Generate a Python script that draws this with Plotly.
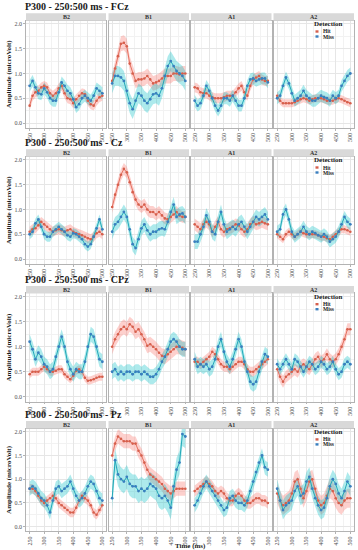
import plotly.graph_objects as go

# ---------------- data ----------------
times = [250, 260, 270, 280, 290, 300, 310, 320, 330, 340, 350, 360, 370,
         380, 390, 400, 410, 420, 430, 440, 450, 460, 470, 480, 490, 500]
conditions = ["B2", "B1", "A1", "A2"]
electrodes = ["FCz", "Cz", "CPz", "Pz"]
series_names = ["Hit", "Miss"]
x_ticks = [250, 300, 350, 400, 450, 500]
y_ticks = [0.0, 0.5, 1.0, 1.5, 2.0]

# FCz
fcz_b2_hit = [0.35, 0.55, 0.62, 0.65, 0.72, 0.75, 0.72, 0.6, 0.55, 0.6, 0.7, 0.75, 0.6, 0.5, 0.48, 0.4, 0.48, 0.55, 0.6, 0.58, 0.45, 0.38, 0.35, 0.45, 0.52, 0.55]
fcz_b2_miss = [0.75, 0.85, 0.72, 0.6, 0.58, 0.7, 0.62, 0.5, 0.45, 0.45, 0.62, 0.82, 0.75, 0.65, 0.6, 0.48, 0.32, 0.38, 0.5, 0.55, 0.5, 0.45, 0.55, 0.7, 0.65, 0.6]
fcz_b1_hit = [0.85, 1.1, 1.35, 1.6, 1.62, 1.55, 1.2, 1.0, 0.85, 0.88, 0.88, 0.9, 0.95, 0.88, 0.8, 0.82, 0.85, 0.9, 0.95, 0.95, 0.95, 1.0, 1.0, 0.98, 1.0, 1.0]
fcz_b1_miss = [0.8, 0.95, 0.95, 0.92, 0.85, 0.65, 0.4, 0.28, 0.45, 0.6, 0.55, 0.45, 0.4, 0.48, 0.58, 0.6, 0.55, 0.7, 0.95, 1.15, 1.25, 1.15, 1.05, 1.0, 0.95, 0.85]
fcz_a1_hit = [0.72, 0.7, 0.62, 0.6, 0.6, 0.55, 0.52, 0.5, 0.5, 0.5, 0.52, 0.55, 0.55, 0.55, 0.62, 0.7, 0.75, 0.62, 0.55, 0.75, 0.88, 0.92, 0.95, 0.88, 0.85, 0.85]
fcz_a1_miss = [0.45, 0.35, 0.4, 0.55, 0.75, 0.65, 0.5, 0.35, 0.25, 0.35, 0.5, 0.5, 0.45, 0.55, 0.45, 0.35, 0.35, 0.5, 0.75, 0.88, 0.9, 0.85, 0.88, 0.9, 0.9, 0.82]
fcz_a2_hit = [0.55, 0.45, 0.4, 0.4, 0.4, 0.4, 0.42, 0.45, 0.48, 0.5, 0.48, 0.45, 0.48, 0.5, 0.5, 0.5, 0.48, 0.45, 0.45, 0.45, 0.48, 0.5, 0.48, 0.45, 0.42, 0.4]
fcz_a2_miss = [0.5, 0.55, 0.75, 0.92, 0.8, 0.6, 0.45, 0.5, 0.55, 0.65, 0.55, 0.5, 0.45, 0.45, 0.5, 0.55, 0.52, 0.5, 0.45, 0.55, 0.5, 0.55, 0.75, 0.85, 0.95, 1.0]

# Cz
cz_b2_hit = [0.55, 0.6, 0.62, 0.68, 0.75, 0.7, 0.65, 0.6, 0.55, 0.58, 0.6, 0.58, 0.55, 0.58, 0.6, 0.55, 0.52, 0.5, 0.48, 0.45, 0.42, 0.4, 0.45, 0.52, 0.55, 0.5]
cz_b2_miss = [0.5, 0.55, 0.72, 0.8, 0.65, 0.5, 0.45, 0.45, 0.55, 0.6, 0.65, 0.6, 0.55, 0.48, 0.45, 0.52, 0.5, 0.45, 0.4, 0.3, 0.25, 0.3, 0.45, 0.62, 0.8, 0.6]
cz_b1_hit = [1.05, 1.3, 1.5, 1.7, 1.82, 1.75, 1.55, 1.35, 1.2, 1.1, 1.05, 1.1, 1.0, 0.95, 0.95, 0.9, 0.95, 0.88, 0.82, 0.8, 0.85, 0.9, 0.95, 0.88, 0.85, 0.85]
cz_b1_miss = [0.55, 0.7, 0.75, 0.85, 0.95, 0.85, 0.6, 0.3, 0.22, 0.4, 0.62, 0.7, 0.58, 0.5, 0.55, 0.55, 0.6, 0.62, 0.6, 0.75, 0.95, 1.1, 0.85, 0.9, 0.92, 0.85]
cz_a1_hit = [0.7, 0.65, 0.6, 0.7, 0.75, 0.7, 0.55, 0.65, 0.75, 0.6, 0.55, 0.6, 0.62, 0.65, 0.7, 0.68, 0.6, 0.55, 0.6, 0.7, 0.75, 0.7, 0.72, 0.75, 0.72, 0.7]
cz_a1_miss = [0.35, 0.35, 0.5, 0.65, 0.88, 0.75, 0.55, 0.5, 0.75, 0.95, 0.7, 0.55, 0.6, 0.65, 0.6, 0.7, 0.75, 0.65, 0.55, 0.65, 0.75, 0.85, 0.8, 0.85, 0.9, 0.8]
cz_a2_hit = [0.5, 0.45, 0.4, 0.5, 0.55, 0.5, 0.45, 0.5, 0.55, 0.52, 0.5, 0.5, 0.5, 0.5, 0.48, 0.45, 0.45, 0.42, 0.4, 0.45, 0.5, 0.55, 0.6, 0.6, 0.58, 0.55]
cz_a2_miss = [0.55, 0.6, 0.9, 1.0, 0.8, 0.55, 0.45, 0.5, 0.55, 0.65, 0.55, 0.5, 0.55, 0.52, 0.48, 0.45, 0.5, 0.45, 0.35, 0.4, 0.45, 0.55, 0.7, 0.85, 0.75, 0.7]

# CPz
cpz_b2_hit = [0.45, 0.5, 0.5, 0.5, 0.55, 0.6, 0.55, 0.5, 0.5, 0.52, 0.55, 0.55, 0.45, 0.4, 0.35, 0.42, 0.52, 0.55, 0.5, 0.38, 0.32, 0.33, 0.35, 0.38, 0.4, 0.4]
cpz_b2_miss = [1.1, 0.95, 0.75, 0.88, 0.8, 0.65, 0.6, 0.5, 0.55, 0.8, 1.0, 1.2, 1.0, 0.7, 0.55, 0.45, 0.55, 0.5, 0.5, 0.7, 1.0, 1.25, 1.2, 1.0, 0.75, 0.7]
cpz_b1_hit = [1.0, 1.15, 1.25, 1.35, 1.4, 1.35, 1.45, 1.4, 1.3, 1.35, 1.25, 1.15, 1.02, 1.05, 1.0, 0.95, 0.88, 0.82, 0.8, 0.85, 0.9, 0.95, 1.0, 1.0, 0.98, 0.95]
cpz_b1_miss = [0.5, 0.55, 0.45, 0.5, 0.45, 0.5, 0.5, 0.45, 0.5, 0.5, 0.45, 0.5, 0.45, 0.4, 0.4, 0.45, 0.55, 0.7, 0.8, 0.95, 1.1, 1.15, 1.1, 1.0, 0.95, 0.95]
cpz_a1_hit = [0.7, 0.7, 0.65, 0.7, 0.75, 0.8, 0.9, 0.85, 0.75, 0.65, 0.6, 0.6, 0.55, 0.6, 0.65, 0.7, 0.7, 0.65, 0.55, 0.5, 0.5, 0.55, 0.6, 0.65, 0.7, 0.75]
cpz_a1_miss = [0.75, 0.6, 0.65, 0.6, 0.65, 0.55, 0.6, 0.75, 1.0, 1.15, 0.9, 0.7, 0.6, 0.75, 0.95, 1.15, 1.0, 0.7, 0.5, 0.3, 0.25, 0.3, 0.5, 0.7, 0.85, 0.8]
cpz_a2_hit = [0.55, 0.4, 0.3, 0.4, 0.45, 0.5, 0.55, 0.5, 0.6, 0.65, 0.6, 0.55, 0.65, 0.75, 0.8, 0.7, 0.75, 0.85, 0.75, 0.7, 0.75, 0.85, 1.0, 1.15, 1.35, 1.35]
cpz_a2_miss = [0.65, 0.55, 0.65, 0.75, 0.65, 0.55, 0.75, 0.7, 0.6, 0.5, 0.6, 0.7, 0.65, 0.55, 0.6, 0.7, 0.65, 0.55, 0.6, 0.7, 0.55, 0.45, 0.5, 0.65, 0.7, 0.65]

# Pz
pz_b2_hit = [0.8, 0.8, 0.75, 0.65, 0.55, 0.5, 0.55, 0.6, 0.65, 0.6, 0.5, 0.45, 0.4, 0.35, 0.3, 0.3, 0.4, 0.55, 0.65, 0.6, 0.55, 0.45, 0.3, 0.25, 0.35, 0.45]
pz_b2_miss = [0.8, 0.85, 0.8, 0.7, 0.6, 0.55, 0.45, 0.3, 0.55, 0.8, 0.85, 0.75, 0.8, 0.85, 0.95, 0.8, 0.65, 0.55, 0.6, 0.7, 0.85, 0.95, 0.9, 0.75, 0.6, 0.55]
pz_b1_hit = [1.5, 1.75, 1.9, 1.85, 1.8, 1.8, 1.8, 1.75, 1.75, 1.6, 1.5, 1.35, 1.2, 1.1, 1.05, 1.0, 0.95, 0.9, 0.8, 0.75, 0.7, 0.75, 0.8, 0.8, 0.8, 0.8]
pz_b1_miss = [0.6, 1.4, 1.1, 1.0, 0.95, 1.05, 0.9, 0.85, 0.85, 0.75, 0.8, 0.75, 0.8, 0.9, 0.85, 0.8, 0.65, 0.6, 0.65, 0.55, 0.4, 0.85, 1.2, 1.35, 1.95, 1.9]
pz_a1_hit = [0.75, 0.8, 0.85, 0.9, 0.95, 0.9, 0.85, 0.75, 0.7, 0.75, 0.7, 0.6, 0.55, 0.55, 0.65, 0.7, 0.65, 0.55, 0.5, 0.5, 0.55, 0.6, 0.6, 0.55, 0.55, 0.5]
pz_a1_miss = [0.45, 0.55, 0.7, 0.85, 0.95, 0.85, 0.75, 0.65, 0.55, 0.45, 0.35, 0.4, 0.6, 0.65, 0.55, 0.5, 0.5, 0.45, 0.55, 0.75, 0.95, 1.15, 1.35, 1.5, 1.25, 1.2]
pz_a2_hit = [0.7, 0.55, 0.45, 0.5, 0.55, 0.7, 0.95, 1.0, 0.8, 0.6, 0.75, 0.95, 1.0, 0.8, 0.55, 0.45, 0.5, 0.65, 0.8, 0.75, 0.6, 0.5, 0.45, 0.55, 0.6, 0.6]
pz_a2_miss = [0.8, 0.55, 0.35, 0.45, 0.5, 0.55, 0.75, 0.85, 0.65, 0.7, 0.95, 1.05, 0.8, 0.6, 0.45, 0.35, 0.4, 0.6, 0.85, 1.0, 0.9, 0.7, 0.6, 0.75, 0.95, 0.85]

# ribbon half-widths per panel (B2, B1, A1, A2)
fcz_hit_band = [0.10, 0.15, 0.10, 0.08]
fcz_miss_band = [0.12, 0.20, 0.12, 0.12]
cz_hit_band = [0.10, 0.12, 0.12, 0.08]
cz_miss_band = [0.10, 0.15, 0.15, 0.12]
cpz_hit_band = [0.08, 0.15, 0.10, 0.12]
cpz_miss_band = [0.15, 0.15, 0.15, 0.12]
pz_hit_band = [0.10, 0.15, 0.12, 0.20]
pz_miss_band = [0.15, 0.25, 0.15, 0.20]

rows_data = [
    ([fcz_b2_hit, fcz_b1_hit, fcz_a1_hit, fcz_a2_hit],
     [fcz_b2_miss, fcz_b1_miss, fcz_a1_miss, fcz_a2_miss], fcz_hit_band, fcz_miss_band),
    ([cz_b2_hit, cz_b1_hit, cz_a1_hit, cz_a2_hit],
     [cz_b2_miss, cz_b1_miss, cz_a1_miss, cz_a2_miss], cz_hit_band, cz_miss_band),
    ([cpz_b2_hit, cpz_b1_hit, cpz_a1_hit, cpz_a2_hit],
     [cpz_b2_miss, cpz_b1_miss, cpz_a1_miss, cpz_a2_miss], cpz_hit_band, cpz_miss_band),
    ([pz_b2_hit, pz_b1_hit, pz_a1_hit, pz_a2_hit],
     [pz_b2_miss, pz_b1_miss, pz_a1_miss, pz_a2_miss], pz_hit_band, pz_miss_band),
]

# ---------------- layout geometry (pixels) ----------------
W, H = 358, 550
col_px = [(26, 106), (108.5, 189), (191, 271.5), (273.5, 354)]
row_px = [(20.7, 127.7), (156.7, 263.7), (293.4, 401.5), (428.6, 531.2)]
y_range = [-0.095, 2.066]
x_range = [237.5, 512.5]

def px_x(p):
    return p / W

def px_y(p):
    return 1 - p / H

SERIF = "Liberation Serif"
hit_line = "#E5705F"
hit_mark = "#D65F4C"
hit_fill = "rgba(248,118,109,0.34)"
miss_line = "#22A8B8"
miss_mark = "#3A7FBF"
miss_fill = "rgba(0,191,196,0.32)"

fig = go.Figure()
layout = dict(
    width=W, height=H, margin=dict(l=0, r=0, t=0, b=0, autoexpand=False),
    paper_bgcolor="white", plot_bgcolor="white", showlegend=False,
)
shapes = []
annotations = []

for r in range(4):
    hits, misses, hband, mband = rows_data[r]
    top, bot = row_px[r]
    for c in range(4):
        n = r * 4 + c + 1
        xa = "xaxis" if n == 1 else f"xaxis{n}"
        ya = "yaxis" if n == 1 else f"yaxis{n}"
        xr = "x" if n == 1 else f"x{n}"
        yr = "y" if n == 1 else f"y{n}"
        l, rr = col_px[c]
        layout[xa] = dict(
            domain=[px_x(l), px_x(rr)], anchor=yr, range=x_range,
            tickvals=x_ticks, ticktext=[str(v) for v in x_ticks], tickangle=-90,
            tickfont=dict(family=SERIF, size=6, color="#4D4D4D"),
            showgrid=True, gridcolor="#E6E6E6", gridwidth=0.6,
            minor=dict(dtick=25, tick0=250, showgrid=True, gridcolor="#F2F2F2", gridwidth=0.4),
            showline=True, mirror=True, linecolor="#B3B3B3", linewidth=0.8,
            ticks="outside", ticklen=2, tickcolor="#B3B3B3", zeroline=False,
            automargin=False, fixedrange=True,
        )
        layout[ya] = dict(
            domain=[px_y(bot), px_y(top)], anchor=xr, range=y_range,
            tickvals=y_ticks, ticktext=[f"{v:.1f}" for v in y_ticks],
            showticklabels=(c == 0),
            tickfont=dict(family=SERIF, size=6, color="#4D4D4D"),
            showgrid=True, gridcolor="#E6E6E6", gridwidth=0.6,
            minor=dict(dtick=0.25, tick0=0, showgrid=True, gridcolor="#F2F2F2", gridwidth=0.4),
            showline=True, mirror=True, linecolor="#B3B3B3", linewidth=0.8,
            ticks="outside" if c == 0 else "", ticklen=2, tickcolor="#B3B3B3",
            zeroline=False, automargin=False, fixedrange=True,
        )
        # ribbons
        for vals, band, fill in ((hits[c], hband[c], hit_fill), (misses[c], mband[c], miss_fill)):
            upper = [v + band for v in vals]
            lower = [v - band for v in vals]
            fig.add_trace(go.Scatter(x=times, y=upper, xaxis=xr, yaxis=yr, mode="lines",
                                     line=dict(width=0, color=fill), hoverinfo="skip"))
            fig.add_trace(go.Scatter(x=times, y=lower, xaxis=xr, yaxis=yr, mode="lines",
                                     line=dict(width=0, color=fill), fill="tonexty",
                                     fillcolor=fill, hoverinfo="skip"))
        fig.add_trace(go.Scatter(x=times, y=hits[c], xaxis=xr, yaxis=yr, mode="lines+markers",
                                 name="Hit", line=dict(color=hit_line, width=1.0),
                                 marker=dict(color=hit_mark, size=2.6)))
        fig.add_trace(go.Scatter(x=times, y=misses[c], xaxis=xr, yaxis=yr, mode="lines+markers",
                                 name="Miss", line=dict(color=miss_line, width=1.0),
                                 marker=dict(color=miss_mark, size=2.8)))
        # strip
        shapes.append(dict(type="rect", xref="paper", yref="paper",
                           x0=px_x(l), x1=px_x(rr), y0=px_y(top), y1=px_y(top - 7.5),
                           fillcolor="#D9D9D9", line=dict(width=0)))
        annotations.append(dict(text=f"<b>{conditions[c]}</b>", xref="paper", yref="paper",
                                x=px_x((l + rr) / 2), y=px_y(top - 3.8), showarrow=False,
                                font=dict(family=SERIF, size=6, color="#333333"),
                                xanchor="center", yanchor="middle"))
    # row title
    annotations.append(dict(text=f"<b>P300 - 250:500 ms - {electrodes[r]}</b>", xref="paper",
                            yref="paper", x=px_x(23), y=px_y(top - 14), showarrow=False,
                            font=dict(family=SERIF, size=10, color="#1A1A1A"),
                            xanchor="left", yanchor="middle"))
    # y-axis title
    annotations.append(dict(text="<b>Amplitude (microVolt)</b>", xref="paper", yref="paper",
                            x=px_x(9), y=px_y((top + bot) / 2), showarrow=False, textangle=-90,
                            font=dict(family=SERIF, size=7, color="#1A1A1A"),
                            xanchor="center", yanchor="middle"))
    # legend
    y2 = top + 3.3
    annotations.append(dict(text="<b>Detection</b>", xref="paper", yref="paper",
                            x=px_x(312), y=px_y(y2), showarrow=False,
                            font=dict(family=SERIF, size=7, color="#1A1A1A"),
                            xanchor="left", yanchor="middle"))
    for k, (nm, colr) in enumerate((("Hit", hit_mark), ("Miss", miss_mark))):
        yy = y2 + 7.5 + 5 * k
        shapes.append(dict(type="rect", xref="paper", yref="paper",
                           x0=px_x(315.5), x1=px_x(318.5), y0=px_y(yy + 1.2), y1=px_y(yy - 1.2),
                           fillcolor=colr, line=dict(width=0)))
        annotations.append(dict(text=f"<b>{nm}</b>", xref="paper", yref="paper",
                                x=px_x(321), y=px_y(yy), showarrow=False,
                                font=dict(family=SERIF, size=5.5, color="#1A1A1A"),
                                xanchor="left", yanchor="middle"))

annotations.append(dict(text="<b>Time (ms)</b>", xref="paper", yref="paper",
                        x=px_x(190), y=px_y(545.5), showarrow=False,
                        font=dict(family=SERIF, size=7, color="#1A1A1A"),
                        xanchor="center", yanchor="middle"))

layout["shapes"] = shapes
layout["annotations"] = annotations
fig.update_layout(**layout)
fig.write_html("out.html", config={"displayModeBar": False},
               post_script="document.body.style.margin='0';document.body.style.padding='0';")
